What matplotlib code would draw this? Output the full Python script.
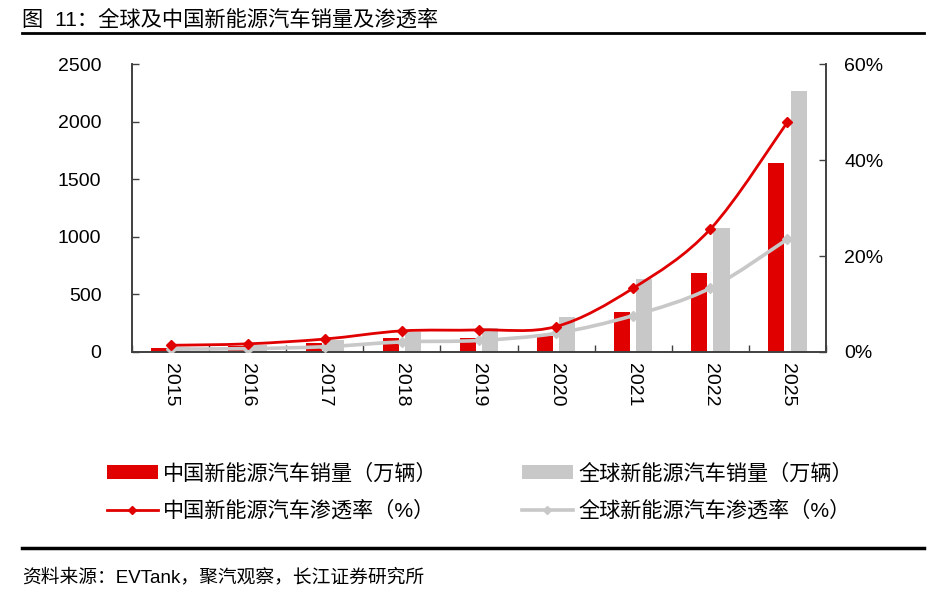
import matplotlib
matplotlib.use("Agg")
import matplotlib.pyplot as plt
import numpy as np
from matplotlib.path import Path
from matplotlib.patches import PathPatch, Patch
from matplotlib.lines import Line2D
from matplotlib.ticker import FixedLocator

plt.rcParams['font.family'] = ['Liberation Sans', 'Noto Sans CJK SC', 'DejaVu Sans']

years = ['2015', '2016', '2017', '2018', '2019', '2020', '2021', '2022', '2025']
china_sales = [33, 51, 77, 125, 121, 137, 345, 685, 1643]
global_sales = [45, 58, 100, 174, 208, 304, 638, 1074, 2268]
china_pen = [1.4, 1.7, 2.7, 4.4, 4.6, 5.3, 13.3, 25.6, 47.9]
global_pen = [0.6, 0.7, 1.1, 2.1, 2.4, 3.9, 7.6, 13.3, 23.5]

left_ticks = [0, 500, 1000, 1500, 2000, 2500]
right_ticks = [0, 20, 40, 60]

title = '图  11：全球及中国新能源汽车销量及渗透率'
source = '资料来源：EVTank，聚汽观察，长江证券研究所'
lab_cs = '中国新能源汽车销量（万辆）'
lab_gs = '全球新能源汽车销量（万辆）'
lab_cp = '中国新能源汽车渗透率（%）'
lab_gp = '全球新能源汽车渗透率（%）'

RED = '#E00000'
GREY = '#C8C8C8'
AXC = '#404040'


def smooth_path(xs, ys):
    P = np.column_stack([xs, ys]).astype(float)
    n = len(P)
    verts = [tuple(P[0])]
    codes = [Path.MOVETO]
    for i in range(n - 1):
        p0 = P[i - 1] if i > 0 else P[i]
        p3 = P[i + 2] if i + 2 < n else P[i + 1]
        c1 = P[i] + (P[i + 1] - p0) / 6.0
        c2 = P[i + 1] - (p3 - P[i]) / 6.0
        verts += [tuple(c1), tuple(c2), tuple(P[i + 1])]
        codes += [Path.CURVE4] * 3
    return Path(verts, codes)


fig = plt.figure(figsize=(9.44, 6.08), dpi=100)
ax = fig.add_axes([132 / 944, 1 - 352 / 608, (826 - 132) / 944, (352 - 64) / 608])

x = np.arange(len(years))
bw = 0.21
off = 0.145
ax.bar(x - off, china_sales, width=bw, color=RED, zorder=2)
ax.bar(x + off, global_sales, width=bw, color=GREY, zorder=2)

ax.set_xlim(-0.5, len(years) - 0.5)
ax.set_ylim(0, 2500)
ax.set_yticks(left_ticks)
ax.set_yticklabels([str(v) for v in left_ticks])
ax.set_xticks(x)
ax.set_xticklabels(years, rotation=-90, fontsize=14)
ax.xaxis.set_minor_locator(FixedLocator(np.arange(-0.5, len(years), 1.0)))
ax.tick_params(axis='x', which='major', length=0, pad=8)
ax.tick_params(axis='x', which='minor', direction='in', length=5, width=1, color=AXC)
ax.tick_params(axis='y', direction='in', length=5, width=1, color=AXC, labelsize=14, pad=22)
ax.spines['top'].set_visible(False)
for s in ['left', 'bottom', 'right']:
    ax.spines[s].set_color(AXC)
    ax.spines[s].set_linewidth(1.2)

ax2 = ax.twinx()
ax2.set_ylim(0, 60)
ax2.set_yticks(right_ticks)
ax2.set_yticklabels([f'{v}%' for v in right_ticks])
ax2.tick_params(axis='y', direction='in', length=5, width=1, color=AXC, labelsize=14, pad=13)
ax2.spines['top'].set_visible(False)
for s in ['left', 'bottom', 'right']:
    ax2.spines[s].set_color(AXC)
    ax2.spines[s].set_linewidth(1.2)

ax2.add_patch(PathPatch(smooth_path(x, global_pen), fill=False, edgecolor=GREY, lw=2.6, zorder=3))
ax2.plot(x, global_pen, linestyle='none', marker='D', ms=5, color=GREY, zorder=3)
ax2.add_patch(PathPatch(smooth_path(x, china_pen), fill=False, edgecolor=RED, lw=2.0, zorder=4))
ax2.plot(x, china_pen, linestyle='none', marker='D', ms=5, color=RED, zorder=4)

# title and rules
fig.text(22 / 944, 1 - 19 / 608, title, fontsize=15.3, va='center', ha='left')
fig.add_artist(Line2D([22 / 944, 924 / 944], [1 - 33 / 608] * 2, color='black', lw=2))
fig.add_artist(Line2D([22 / 944, 924 / 944], [1 - 548 / 608] * 2, color='black', lw=2.5))
fig.text(22 / 944, 1 - 577 / 608, source, fontsize=13.5, va='center', ha='left')

# legends
h_cs = Patch(facecolor=RED, edgecolor='none')
h_gs = Patch(facecolor=GREY, edgecolor='none')
h_cp = Line2D([], [], color=RED, lw=2, marker='D', ms=4)
h_gp = Line2D([], [], color=GREY, lw=2.6, marker='D', ms=4)
kw = dict(frameon=False, fontsize=15.2, handlelength=2.4, handleheight=0.6,
          handletextpad=0.25, labelspacing=0.8, borderpad=0, borderaxespad=0,
          loc='center left')
leg1 = fig.legend([h_cs, h_cp], [lab_cs, lab_cp], bbox_to_anchor=(107 / 944, 1 - 492 / 608), **kw)
leg2 = fig.legend([h_gs, h_gp], [lab_gs, lab_gp], bbox_to_anchor=(522 / 944, 1 - 492 / 608), **kw)

fig.savefig('out.png', dpi=100)
